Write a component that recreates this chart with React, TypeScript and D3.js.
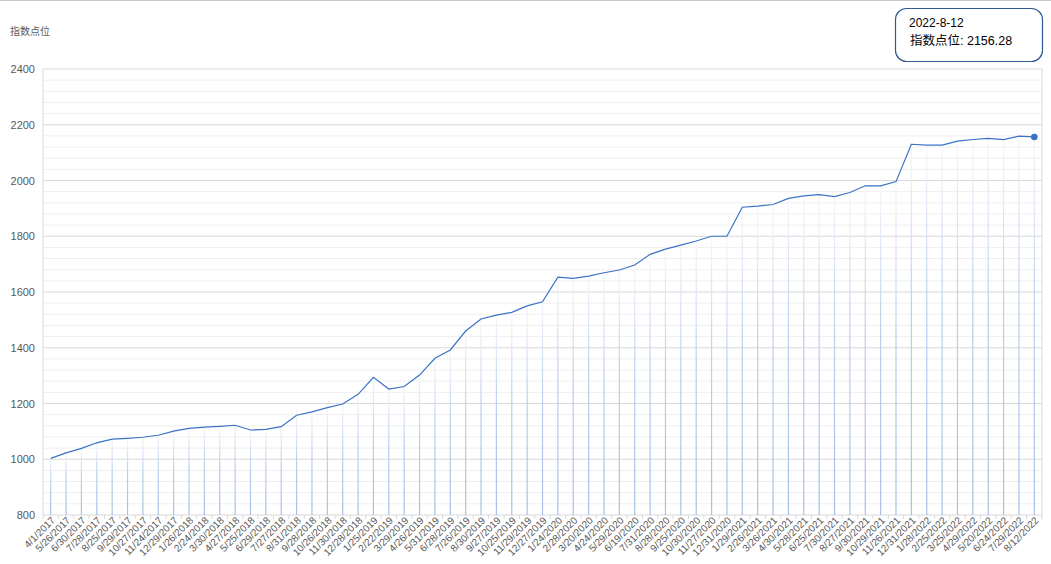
import React from "react";
import * as d3 from "d3";

const categories: string[] = [
  "4/1/2017", "5/26/2017", "6/30/2017", "7/28/2017", "8/25/2017", "9/29/2017", "10/27/2017", "11/24/2017", "12/29/2017",
  "1/26/2018", "2/24/2018", "3/30/2018", "4/27/2018", "5/25/2018", "6/29/2018", "7/27/2018", "8/31/2018", "9/28/2018", "10/26/2018", "11/30/2018", "12/28/2018",
  "1/25/2019", "2/22/2019", "3/29/2019", "4/26/2019", "5/31/2019", "6/28/2019", "7/26/2019", "8/30/2019", "9/27/2019", "10/25/2019", "11/29/2019", "12/27/2019",
  "1/24/2020", "2/28/2020", "3/20/2020", "4/24/2020", "5/29/2020", "6/19/2020", "7/31/2020", "8/28/2020", "9/25/2020", "10/30/2020", "11/27/2020", "12/31/2020",
  "1/29/2021", "2/26/2021", "3/26/2021", "4/30/2021", "5/28/2021", "6/25/2021", "7/30/2021", "8/27/2021", "9/30/2021", "10/29/2021", "11/26/2021", "12/31/2021",
  "1/28/2022", "2/25/2022", "3/25/2022", "4/29/2022", "5/20/2022", "6/24/2022", "7/29/2022", "8/12/2022",
];

const values: number[] = [
  1003, 1023, 1039, 1059, 1072, 1075, 1079, 1086, 1101,
  1111, 1115, 1118, 1122, 1105, 1107, 1117, 1158, 1170, 1185, 1198, 1233,
  1294, 1252, 1261, 1302, 1362, 1392, 1460, 1503, 1517, 1527, 1550, 1565,
  1653, 1649, 1657, 1669, 1679, 1697, 1735, 1754, 1768, 1783, 1800, 1800,
  1904, 1908, 1914, 1936, 1945, 1949, 1942, 1957, 1981, 1981, 1996,
  2130, 2127, 2127, 2141, 2147, 2151, 2147, 2159, 2156.28,
];

const yTicks: number[] = [800, 1000, 1200, 1400, 1600, 1800, 2000, 2200, 2400];
const yMinorStep = 40;
const yAxisTitle = "指数点位";
const tooltipDate = "2022-8-12";
const tooltipLabel = "指数点位: 2156.28";

const W = 1051;
const H = 564;
const left = 43;
const right = 1042;
const top = 69;
const bottom = 515;
const lineColor = "#3b73c4";
const font = "'Liberation Sans', Arial, 'Noto Sans CJK SC', sans-serif";

export default function App() {
  const x = d3.scaleBand<string>().domain(categories).range([left, right]).padding(0);
  const y = d3.scaleLinear().domain([800, 2400]).range([bottom, top]);
  const cx = (c: string) => (x(c) as number) + x.bandwidth() / 2;

  const minor = d3.range(800, 2400 + 1, yMinorStep).filter((v) => !yTicks.includes(v));
  const line = d3
    .line<number>()
    .x((_, i) => cx(categories[i]))
    .y((v) => y(v));

  const lastIdx = values.length - 1;

  return (
    <svg
      width={W}
      height={H}
      style={{ position: "fixed", left: 0, top: 0, background: "#fff", fontFamily: font }}
    >
      <defs>
        <linearGradient id="drop" x1="0" y1="0" x2="0" y2="1">
          <stop offset="0%" stopColor="#f4f7fc" />
          <stop offset="45%" stopColor="#bccfee" />
          <stop offset="100%" stopColor="#a6c0e6" />
        </linearGradient>
      </defs>
      <rect x={0} y={0} width={W} height={H} fill="#fff" />
      <line x1={0} x2={W} y1={0.5} y2={0.5} stroke="#c8c8c8" />

      {/* minor gridlines */}
      {minor.map((v) => (
        <line key={"m" + v} x1={left} x2={right} y1={y(v)} y2={y(v)} stroke="#efefef" strokeWidth={1} />
      ))}
      {/* major gridlines */}
      {yTicks.map((v) => (
        <line key={"g" + v} x1={left} x2={right} y1={y(v)} y2={y(v)} stroke="#d9d9d9" strokeWidth={1} />
      ))}
      {/* plot border */}
      <line x1={left} x2={left} y1={top} y2={bottom} stroke="#d9d9d9" />
      <line x1={right} x2={right} y1={top} y2={bottom} stroke="#d9d9d9" />

      {/* drop lines */}
      {values.map((v, i) => (
        <rect
          key={"d" + i}
          x={cx(categories[i]) - 0.6}
          y={y(v)}
          width={1.2}
          height={bottom - y(v)}
          fill="url(#drop)"
        />
      ))}

      {/* x ticks */}
      {categories.map((c, i) => (
        <line key={"t" + i} x1={x(c) as number} x2={x(c) as number} y1={bottom} y2={bottom + 4} stroke="#d9d9d9" />
      ))}
      <line x1={right} x2={right} y1={bottom} y2={bottom + 4} stroke="#d9d9d9" />

      {/* y labels */}
      {yTicks.map((v) => (
        <text key={"y" + v} x={35} y={y(v) + 4} textAnchor="end" fontSize={11} fill="#595959">
          {v}
        </text>
      ))}
      <text x={10} y={35} fontSize={10} fill="#595959">
        {yAxisTitle}
      </text>

      {/* x labels */}
      {categories.map((c) => (
        <text
          key={"xl" + c}
          transform={`translate(${cx(c) + 5},${bottom + 6}) rotate(-45)`}
          textAnchor="end"
          fontSize={10}
          fill="#595959"
        >
          {c}
        </text>
      ))}

      {/* line */}
      <path d={line(values) || ""} fill="none" stroke={lineColor} strokeWidth={1.2} />
      <circle cx={cx(categories[lastIdx])} cy={y(values[lastIdx])} r={3.3} fill={lineColor} />

      {/* tooltip */}
      <rect x={895.5} y={8.5} width={147} height={53} rx={11} ry={11} fill="#fff" stroke="#2f5a93" strokeWidth={1.2} />
      <text x={909} y={27} fontSize={12} fill="#000">
        {tooltipDate}
      </text>
      <text x={910} y={45} fontSize={12.5} fill="#000">
        {tooltipLabel}
      </text>
    </svg>
  );
}
